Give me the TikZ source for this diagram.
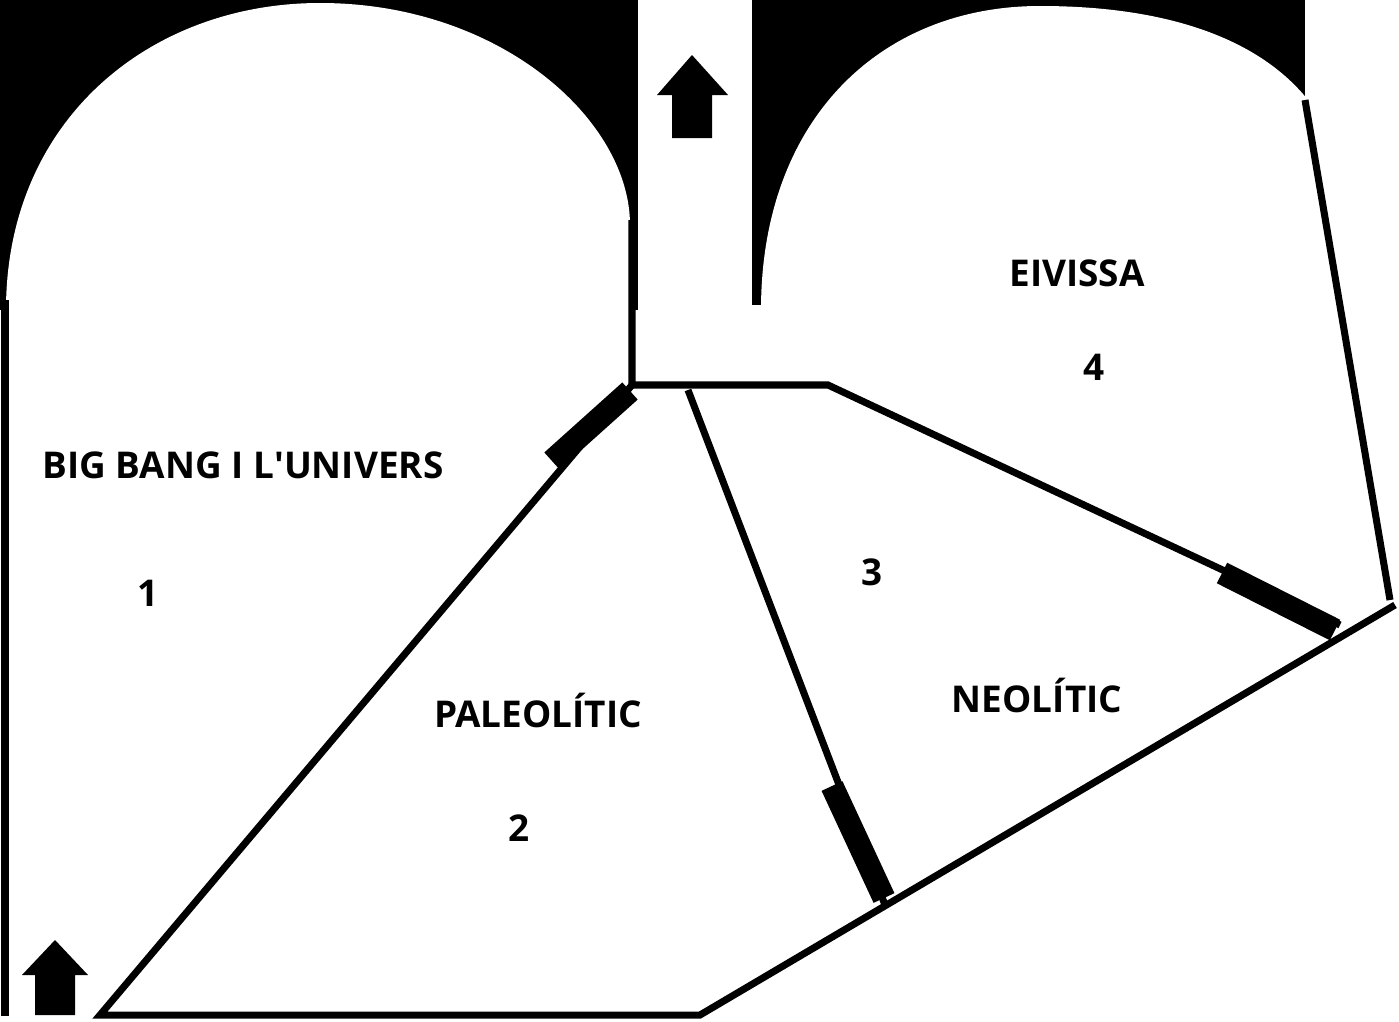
\documentclass[tikz,border=0pt]{standalone}
\usepackage{fontspec}
\setmainfont{Open Sans}
\begin{document}
\begin{tikzpicture}[x=0.02cm,y=-0.02cm,
    wall/.style={line width=4pt},
    door/.style={line width=0.46cm},
    label/.style={font=\fontsize{21}{25}\selectfont\bfseries}]
    \useasboundingbox (0,0) rectangle (1399,1021);
    % black corners over the arches
    \fill[black] (0,0) rectangle (638,310);
    \fill[white] (6,310) .. controls (6,120) and (150,3) .. (320,3)
        .. controls (500,3) and (630,120) .. (630,225) -- (630,310) -- cycle;
    \fill[black] (752,0) rectangle (1305,305);
    \fill[white] (761,310) .. controls (761,120) and (880,6) .. (1040,6)
        .. controls (1170,6) and (1260,40) .. (1308,100) -- (1308,310) -- cycle;
    % walls
    \draw[wall] (5,300) -- (5,1016);
    \draw[wall] (632,220) -- (632,385) -- (828,385) -- (1340,625);
    \draw[wall] (632,385) -- (100,1015) -- (700,1015) -- (1395,605);
    \draw[wall] (688,390) -- (885,905);
    \draw[wall] (1305,100) -- (1390,600);
    % doors
    \draw[door] (630,391) -- (552,461);
    \draw[door] (832,786) -- (884,898);
    \draw[door] (1222,573) -- (1335,630);
    % arrows
    \fill[black] (55,940) -- (88,975) -- (75,975) -- (75,1015) -- (35,1015)
        -- (35,975) -- (22,975) -- cycle;
    \fill[black] (692,55) -- (728,95) -- (712,95) -- (712,138) -- (672,138)
        -- (672,95) -- (657,95) -- cycle;
    % rooms
    \node[label] (univers) at (243,465) {BIG BANG I L\textquotesingle UNIVERS};
    \node[label] (n1) at (148,593) {1};
    \node[label] (paleo) at (538,710) {PALEOLÍTIC};
    \node[label] (n2) at (519,828) {2};
    \node[label] (n3) at (872,572) {3};
    \node[label] (neo) at (1037,695) {NEOLÍTIC};
    \node[label] (eivissa) at (1077,273) {EIVISSA};
    \node[label] (n4) at (1094,367) {4};
\end{tikzpicture}
\end{document}
